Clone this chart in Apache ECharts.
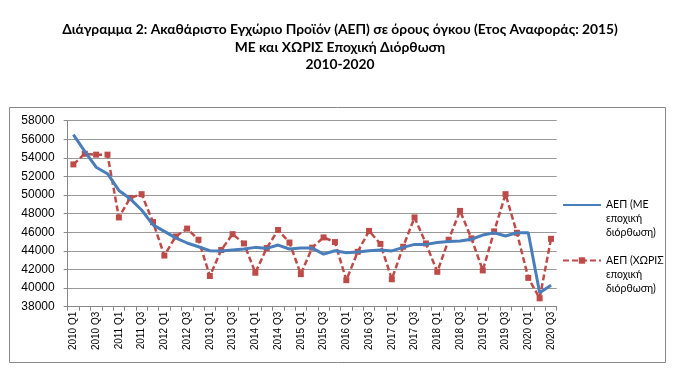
<!DOCTYPE html>
<html><head><meta charset="utf-8">
<script src="https://cdn.jsdelivr.net/npm/echarts@6/dist/echarts.min.js"></script>
<style>html,body{margin:0;padding:0;background:#fff}#c{width:680px;height:379px}</style>
</head><body><div id="c"></div>
<script>
const categories = [];
for (let y = 2010; y <= 2020; y++) for (let q = 1; q <= 4; q++) { if (y === 2020 && q > 3) break; categories.push(y + ' Q' + q); }
const seasonallyAdjusted = [56500, 54700, 53000, 52300, 50500, 49600, 48400, 46800, 46100, 45400, 44850, 44450, 44020, 44000, 44100, 44200, 44380, 44270, 44630, 44200, 44300, 44300, 43650, 44020, 43800, 43880, 44020, 44100, 44000, 44380, 44700, 44700, 44900, 45000, 45060, 45250, 45700, 45950, 45600, 45950, 45950, 39500, 40300];
const notAdjusted = [53300, 54450, 54350, 54350, 47600, 49700, 50100, 47100, 43500, 45550, 46400, 45200, 41300, 44100, 45800, 44800, 41650, 44300, 46250, 44900, 41500, 44350, 45450, 44950, 40850, 43900, 46150, 44750, 40950, 44450, 47600, 44800, 41750, 45200, 48300, 45350, 41900, 46100, 50100, 45950, 41100, 38900, 45300];
const yTicks = {min: 38000, max: 58000, interval: 2000};
const titleText = 'Διάγραμμα 2: Ακαθάριστο Εγχώριο Προϊόν (ΑΕΠ) σε όρους όγκου (Ετος Αναφοράς: 2015)\nΜΕ και ΧΩΡΙΣ Εποχική Διόρθωση\n2010-2020';
const nameSA = 'ΑΕΠ (ΜΕ\nεποχική\nδιόρθωση)';
const nameNSA = 'ΑΕΠ (ΧΩΡΙΣ\nεποχική\nδιόρθωση)';

const chart = echarts.init(document.getElementById('c'), null, {renderer: 'canvas'});
const legendBase = {
  orient: 'vertical', left: 562, padding: 0, itemWidth: 38, itemHeight: 8, itemGap: 5,
  formatter: n => '\n\n' + n,
  textStyle: {fontFamily: 'Lato', fontSize: 10.5, color: '#000', lineHeight: 14}
};
chart.setOption({
  animation: false,
  backgroundColor: '#fff',
  title: {
    text: titleText, left: 'center', top: 21, padding: 0,
    textStyle: {fontFamily: 'Lato', fontWeight: 'bold', fontSize: 13.8, color: '#000', lineHeight: 17.5}
  },
  graphic: [{type: 'rect', shape: {x: 9.5, y: 107.5, width: 656, height: 255}, style: {fill: 'none', stroke: '#888', lineWidth: 1}, silent: true, z: -1}],
  legend: [
    Object.assign({}, legendBase, {top: 170, data: [{name: nameSA, itemStyle: {opacity: 0}}]}),
    Object.assign({}, legendBase, {top: 225.5, data: [nameNSA]})
  ],
  grid: {left: 67.7, right: 123.3, top: 120.7, bottom: 72.3},
  xAxis: {
    type: 'category', data: categories, boundaryGap: true,
    axisLine: {lineStyle: {color: '#888', width: 1}},
    axisTick: {show: true, interval: 0, length: 4, lineStyle: {color: '#888'}},
    axisLabel: {interval: 1, rotate: 90, margin: 5, fontFamily: 'Liberation Sans', fontSize: 10, color: '#000'}
  },
  yAxis: {
    type: 'value', min: yTicks.min, max: yTicks.max, interval: yTicks.interval,
    axisLine: {show: true, lineStyle: {color: '#888', width: 1}},
    axisTick: {show: true, length: 4, lineStyle: {color: '#888'}},
    splitLine: {lineStyle: {color: '#999', width: 1}},
    axisLabel: {margin: 13, fontFamily: 'Liberation Sans', fontSize: 12, color: '#000', formatter: v => String(v)}
  },
  series: [
    {name: nameSA, type: 'line', data: seasonallyAdjusted, symbol: 'none',
     lineStyle: {color: '#4a7ebb', width: 3}, itemStyle: {color: '#4a7ebb'}, z: 3},
    {name: nameNSA, type: 'line', data: notAdjusted, symbol: 'rect', symbolSize: 6,
     lineStyle: {color: '#be4b48', width: 2.5, type: [6, 3]}, itemStyle: {color: '#be4b48'}, z: 2}
  ]
});
</script></body></html>
